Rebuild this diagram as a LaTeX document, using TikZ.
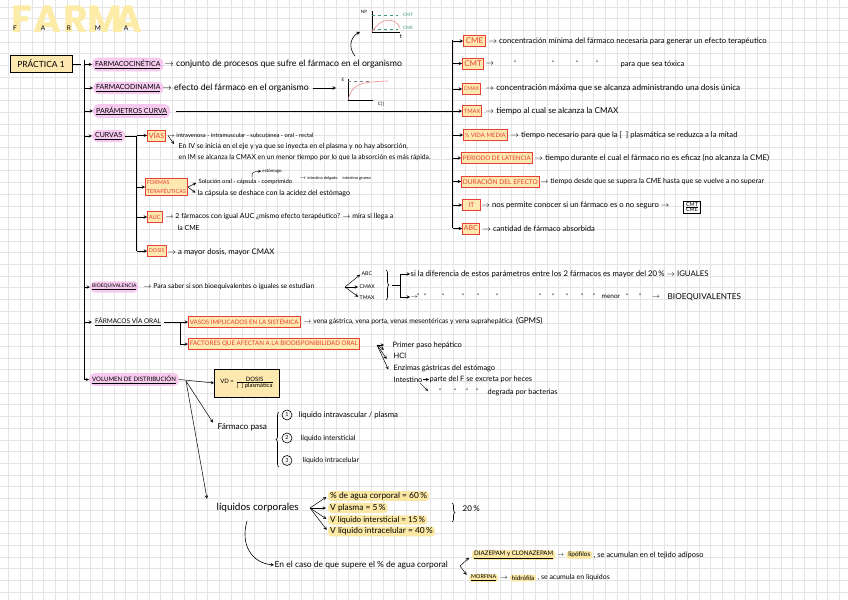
\documentclass[tikz,border=0pt]{standalone}
\usepackage{fontspec}
\setmainfont{Lato}
\newfontfamily\titlefont{Poppins}
\usetikzlibrary{positioning,decorations.pathreplacing,calc}

\definecolor{pillpink}{RGB}{246,202,238}
\definecolor{boxyellow}{RGB}{253,232,176}
\definecolor{boxred}{RGB}{232,64,52}
\definecolor{hlyellow}{RGB}{251,231,164}
\definecolor{gridgray}{RGB}{229,229,229}
\definecolor{cmgreen}{RGB}{58,150,118}
\definecolor{curvepink}{RGB}{239,140,140}
\definecolor{titleyellow}{RGB}{252,236,168}

\newcommand{\fsz}[1]{\fontsize{#1}{#1}\selectfont}
\newcommand{\arr}{$\rightarrow$}

\begin{document}
\begin{tikzpicture}[x=1bp,y=-1bp,>=stealth,
  every node/.style={inner sep=1pt,font=\fsz{7.8}},
  txt/.style={anchor=west,inner sep=0.5pt},
  pill/.style={anchor=west,fill=pillpink,rounded corners=5bp,inner xsep=3bp,inner ysep=2.5bp,font=\fsz{7}},
  redbox/.style={anchor=west,draw=boxred,fill=boxyellow,text=boxred,line width=0.8pt,inner xsep=1.5bp,inner ysep=2bp,minimum height=11bp},
  hl/.style={anchor=west,fill=hlyellow,rounded corners=3bp,inner xsep=2bp,inner ysep=1bp},
  line/.style={line width=0.6pt},
  tip/.style={->,line width=0.5pt},
  grid line/.style={gridgray,line width=0.4pt},
  brace/.style={decorate,decoration={brace,amplitude=3bp},line width=0.6pt},
]
\useasboundingbox (0,0) rectangle (848,600);
\fill[white] (0,0) rectangle (848,600);
% squared paper
\foreach \gx in {0,...,72} \draw[grid line] ({8.5+11.7*\gx},0) -- ++(0,600);
\foreach \gy in {0,...,51} \draw[grid line] (0,{6.8+11.7*\gy}) -- ++(848,0);

% title
\foreach \ch/\cx [count=\i] in {F/21.5,A/47.5,R/75.5,M/105,A/128}
  \node[font=\titlefont\bfseries\fsz{38},text=titleyellow,inner sep=0pt] (big-\i) at (\cx,19) {\ch};
\foreach \ch/\cx [count=\i] in {F/15,A/43,R/69,M/98,A/126}
  \node[font=\fsz{6.5}] (sm-\i) at (\cx,28) {\ch};

% main trunk
\node[draw,fill=boxyellow,line width=0.8pt,minimum width=62bp,minimum height=17bp,font=\fsz{8.5}] (prac) at (41,64) {PRÁCTICA 1};
\coordinate (trunk) at (84.3,60);
\coordinate (trunkend) at (84.3,380);
\draw[line] (prac.east) -- ++(9,0);
\draw[line] (trunk) -- (trunkend);

\node[pill] (fcin) at (92,64.5) {\underline{FARMACOCINÉTICA}};
\node[pill] (fdin) at (93,88) {\underline{FARMACODINAMIA}};
\node[pill] (pcur) at (93,111) {\underline{PARÁMETROS CURVA}};
\node[pill] (curv) at (92,136) {\underline{CURVAS}};
\node[pill,font=\fsz{5},inner xsep=2bp] (bioe) at (90,287) {\underline{BIOEQUIVALENCIA}};
\node[pill,fill=none,font=\fsz{6.5}] (fvo) at (92,322) {\underline{FÁRMACOS VÍA ORAL}};
\node[pill,font=\fsz{6.1}] (vdis) at (89,379.5) {\underline{VOLUMEN DE DISTRIBUCIÓN}};
\foreach \p in {fcin,fdin,pcur,curv,bioe,fvo,vdis}
  \draw[tip] (trunk |- \p.west) -- (\p.west);

% farmacocinetica / farmacodinamia
\node[txt,font=\fsz{8.8}] (fcin-t) at (164,64) {\arr{} conjunto de procesos que sufre el fármaco en el organismo};
\node[txt,font=\fsz{8.8}] (fdin-t) at (162,88) {\arr{} efecto del fármaco en el organismo};
\coordinate (egraph) at (336,88);
\draw[tip,line width=0.6pt,shorten <=3bp] (fdin-t.east) -- (egraph);

% E - C graph
\coordinate (e0) at (348,100);
\draw[line] (348,79) -- (e0) -- (373,100);
\draw[dashed,line width=0.4pt,gray] (348,81) -- (370,81);
\draw[curvepink,line width=0.6pt] (e0) .. controls (352,84) and (360,82) .. (388,81);
\node[font=\fsz{4.5}] (elab) at (343,80) {E};
\node[font=\fsz{4.5}] (clab) at (381,104) {C[\,]};

% concentration - time graph
\coordinate (np0) at (372,32);
\draw[line] (372,11) -- (np0) -- (400,32);
\draw[dashed,cmgreen,line width=0.5pt] (372,15) -- (398,15);
\draw[dashed,cmgreen,line width=0.5pt] (372,29.5) -- (398,29.5);
\draw[curvepink,line width=0.6pt] (np0) .. controls (380,18) and (395,16) .. (400,28);
\node[font=\fsz{4.5}] (nplab) at (364,12) {NP};
\node[font=\fsz{4.5},text=cmgreen,anchor=west] (cmtlab) at (402,15) {CMT};
\node[font=\fsz{4.5},text=cmgreen,anchor=west] (cmelab) at (402,28) {CME};
\node[font=\fsz{6}] (tlab) at (401,37) {t};
\coordinate (orgup) at (355,56);
\coordinate (npin) at (360,32);
\draw[tip,line width=0.6pt] (orgup) .. controls (347,46) and (352,36) .. (npin);

% parametros curva
\coordinate (rtrunk) at (452.7,40);
\coordinate (rtrunkend) at (452.7,228.5);
\draw[line,shorten <=6bp] (pcur.east) -- (rtrunk |- pcur.east);
\draw[line] (rtrunk) -- (rtrunkend);

\node[redbox,font=\fsz{8},inner xsep=2.5bp] (cme) at (463,41) {CME};
\node[redbox,font=\fsz{8},inner xsep=2bp] (cmt) at (462,63.5) {CMT};
\node[redbox,font=\fsz{5.2}] (cmax) at (462,89) {CMAX};
\node[redbox,font=\fsz{5.8}] (tmax) at (462,111) {TMAX};
\node[redbox,font=\fsz{6}] (vida) at (463,135) {½ VIDA MEDIA};
\node[redbox,font=\fsz{6.2}] (plat) at (461,158) {PERIODO DE LATENCIA};
\node[redbox,font=\fsz{6.6}] (dur) at (461,181.5) {DURACIÓN DEL EFECTO};
\node[redbox,font=\fsz{6.5},minimum width=18bp] (it) at (462,205) {IT};
\node[redbox,font=\fsz{7}] (abc) at (462,228.5) {ABC};
\foreach \b in {cme,cmt,cmax,tmax,vida,plat,dur,it,abc}
  \draw[tip] (rtrunk |- \b.west) -- (\b.west);

\node[txt,font=\fsz{7.7}] (cme-t) at (488,41.5) {\arr{} concentración mínima del fármaco necesaria para generar un efecto terapéutico};
\node[txt,font=\fsz{7.6}] (cmt-t) at (485,63.5) {\arr};
\foreach \dx [count=\i] in {515,553,577,597}
  \node[font=\fsz{6}] (cmt-d\i) at (\dx,63) {''};
\node[txt,font=\fsz{7.6}] (cmt-t2) at (620,64) {para que sea tóxica};
\node[txt,font=\fsz{8.2}] (cmax-t) at (485,88.5) {\arr{} concentración máxima que se alcanza administrando una dosis única};
\node[txt,font=\fsz{8.2}] (tmax-t) at (485,111) {\arr{} tiempo al cual se alcanza la CMAX};
\node[txt,font=\fsz{7.7}] (vida-t) at (510,135) {\arr{} tiempo necesario para que la [\ \ ] plasmática se reduzca a la mitad};
\node[txt,font=\fsz{7.8}] (plat-t) at (534,158) {\arr{} tiempo durante el cual el fármaco no es eficaz (no alcanza la CME)};
\node[txt,font=\fsz{7.1}] (dur-t) at (540,182) {\arr{} tiempo desde que se supera la CME hasta que se vuelve a no superar};
\node[txt,font=\fsz{7.7}] (it-t) at (481,205) {\arr{} nos permite conocer si un fármaco es o no seguro \arr};
\node[draw,line width=0.6pt,inner sep=1.5bp,font=\fsz{5.5}] (itfrac) at (692,207) {$\frac{\mbox{CMT}}{\mbox{CME}}$};
\node[txt,font=\fsz{7.6}] (abc-t) at (482,228.5) {\arr{} cantidad de fármaco absorbida};

% curvas
\coordinate (ctrunk) at (136.7,136);
\coordinate (ctrunkend) at (136.7,251);
\draw[line] (curv.east) -- (ctrunk) -- (ctrunkend);
\node[redbox,font=\fsz{7}] (vias) at (147,135.5) {VÍAS};
\node[redbox,font=\fontsize{5.5}{8.5}\selectfont,align=left] (form) at (145,187) {FORMAS\\TERAPÉUTICAS};
\node[redbox,font=\fsz{5.8}] (auc) at (147,217) {AUC};
\node[redbox,font=\fsz{5.4}] (dosis) at (147,251) {DOSIS};
\foreach \b in {vias,form,auc,dosis}
  \draw[tip] (ctrunk |- \b.west) -- (\b.west);

\node[txt,font=\fsz{5.8}] (vias-t) at (167,135) {\arr{} intravenosa - intramuscular - subcutánea - oral - rectal};
\node[txt,font=\fsz{7}] (iv-t) at (178,147) {En IV se inicia en el eje y ya que se inyecta en el plasma y no hay absorción,};
\node[txt,font=\fsz{6.8}] (im-t) at (178,158) {en IM se alcanza la CMAX en un menor tiempo por lo que la absorción es más rápida.};
\draw[tip] ([xshift=2bp]vias.east) -- ([xshift=-4bp,yshift=-1bp]iv-t.north west);

\node[txt,font=\fsz{5.9}] (form-a) at (198,182) {Solución oral - cápsula - comprimido};
\node[txt,font=\fsz{7.2}] (form-b) at (197,194) {la cápsula se deshace con la acidez del estómago};
\draw[tip,shorten >=2bp] (form.east) -- (form-a.west);
\draw[tip,shorten >=2bp] (form.east) -- (form-b.west);
\node[font=\fsz{4.5}] (estom) at (272,171) {estómago};
\coordinate (capsula) at (252,178);
\draw[tip,line width=0.4pt] (capsula) .. controls (252,172) .. (estom.west);
\node[txt,font=\fsz{4}] (intd) at (299,178) {\arr{} intestino delgado \quad intestino grueso};

\node[txt,font=\fsz{7}] (auc-t) at (165,217) {\arr{} 2 fármacos con igual AUC ¿mismo efecto terapéutico? \arr{} mira si llega a};
\node[txt,font=\fsz{7}] (auc-t2) at (177,228) {la CME};
\node[txt,font=\fsz{7.8}] (dosis-t) at (167,252) {\arr{} a mayor dosis, mayor CMAX};

% bioequivalencia
\node[txt,font=\fsz{6.8}] (bioe-t) at (143,287) {\arr{} Para saber si son bioequivalentes o iguales se estudian};
\coordinate (bsplit) at (345,287);
\node[txt,font=\fsz{5.2}] (b-abc) at (361,274) {ABC};
\node[txt,font=\fsz{5.2}] (b-cmax) at (359,287) {CMAX};
\node[txt,font=\fsz{5.2}] (b-tmax) at (359,297.5) {TMAX};
\foreach \b in {b-abc,b-cmax,b-tmax}
  \draw[tip,shorten >=1bp] (bsplit) -- (\b.west);
\draw[brace] (386,270) -- (386,300);
\coordinate (bjoin) at (392,285.5);
\coordinate (bbrk) at (400,285.5);
\draw[line] (bjoin) -- (bbrk);
\node[txt,font=\fsz{7.8}] (ig-t) at (410,274) {si la diferencia de estos parámetros entre los 2 fármacos es mayor del 20\,\% \arr{} IGUALES};
\node[txt,font=\fsz{6}] (beq-t) at (410,297) {\arr};
\foreach \dx [count=\i] in {418,425,443,463,478,497,540,553,567,582,594,627,640}
  \node[font=\fsz{6}] (beq-d\i) at (\dx,296.5) {''};
\node[txt,font=\fsz{6.5}] (menor) at (601,297) {menor};
\node[font=\fsz{7}] (beq-a) at (656,297) {\arr};
\node[txt,font=\fsz{8.2}] (bioeq) at (667,297) {BIOEQUIVALENTES};
\draw[tip] (bbrk |- ig-t.west) -- (ig-t.west);
\draw[line] (bbrk |- ig-t.west) -- (bbrk |- beq-t.west);
\draw[tip] (bbrk |- beq-t.west) -- (beq-t.west);

% farmacos via oral
\coordinate (fbrk) at (180,322);
\draw[line] (fvo.east) -- (fbrk);
\node[redbox,font=\fsz{6.1}] (vasos) at (188,322) {VASOS IMPLICADOS EN LA SISTÉMICA};
\node[redbox,font=\fsz{6.2}] (fact) at (188,344) {FACTORES QUE AFECTAN A LA BIODISPONIBILIDAD ORAL};
\draw[tip] (fbrk) -- (vasos.west);
\draw[tip] (fbrk) |- (fact.west);
\node[txt,font=\fsz{6.8}] (vasos-t) at (303,321.5) {\arr{} vena gástrica, vena porta, venas mesentéricas y vena suprahepática \ {\fsz{8}(GPMS)}};

\coordinate (ffan) at (377,345);
\node[txt,font=\fsz{7.5}] (pp) at (392,345) {Primer paso hepático};
\node[txt,font=\fsz{7.5}] (hcl) at (393,356) {HCl};
\node[txt,font=\fsz{7.4}] (enz) at (393,368) {Enzimas gástricas del estómago};
\node[txt,font=\fsz{7.4}] (intest) at (393,379.5) {Intestino};
\node[txt,font=\fsz{7.4}] (intest-t) at (429,379.5) {parte del F se excreta por heces};
\draw[tip,line width=0.4pt] (intest.east) -- (intest-t.west);
\foreach \dx [count=\i] in {440,455,467,477}
  \node[font=\fsz{6}] (degr-d\i) at (\dx,391.5) {''};
\node[txt,font=\fsz{7.4}] (degr) at (487,392) {degrada por bacterias};
\coordinate (intdn) at (428,391);
\draw[tip,line width=0.4pt] ([xshift=-3bp]intest.south east) -- (intdn);
\draw[tip,shorten >=8bp] (ffan) -- (pp.west);
\foreach \f in {hcl,enz,intest}
  \draw[tip,shorten >=11bp] (ffan) -- (\f.west);

% volumen de distribucion
\node[draw,fill=boxyellow,line width=0.8pt,minimum width=65bp,minimum height=28bp,font=\fsz{6}] (vd) at (247,383) {VD = $\frac{\mbox{DOSIS}}{\mbox{[\ \ ] plasmática}}$};
\draw[tip] (vdis.east) -- (vd.west);
\coordinate (vsplit) at (186,381);
\node[txt,font=\fsz{8.3}] (fpasa) at (217,427) {Fármaco pasa};
\node[txt,font=\fsz{10}] (liq) at (216,508) {líquidos corporales};
\draw[tip] (vsplit) -- ([xshift=-4bp]fpasa.north west);
\draw[tip] (vsplit) -- ([xshift=-9bp,yshift=4bp]liq.north west);

\draw[brace] (279,467) -- (279,412);
\foreach \n/\ny in {1/415,2/438,3/460.5}
  \node[circle,draw,line width=0.6pt,inner sep=0pt,minimum size=10bp,font=\fsz{5.5}] (n\n) at (287,\ny) {\n};
\node[txt,font=\fsz{7.8}] (l1) at (298,415) {líquido intravascular / plasma};
\node[txt,font=\fsz{7.1}] (l2) at (300,438) {líquido intersticial};
\node[txt,font=\fsz{7}] (l3) at (302,461) {líquido intracelular};

\coordinate (lfan) at (310,508);
\node[hl,font=\fsz{8.4}] (w1) at (328,496) {\% de agua corporal = 60\,\%};
\node[hl,font=\fsz{8.4}] (w2) at (328,508) {V plasma = 5\,\%};
\node[hl,font=\fsz{8}] (w3) at (328,520) {V líquido intersticial = 15\,\%};
\node[hl,font=\fsz{8.4}] (w4) at (328,531.5) {V líquido intracelular = 40\,\%};
\foreach \w in {w1,w2,w3,w4}
  \draw[tip,shorten >=2bp] (lfan) -- (\w.west);
\draw[brace] (452,503) -- (452,522);
\node[txt,font=\fsz{8}] (pct) at (462,509) {20\,\%};

\coordinate (lcurve) at (247,521);
\node[txt,font=\fsz{8.5}] (case) at (274,565) {En el caso de que supere el \% de agua corporal};
\draw[tip,line width=0.6pt] (lcurve) .. controls (240,545) and (252,563) .. (case.west);
\coordinate (csplit) at (460,566);
\node[hl,font=\fsz{6.2}] (diaz) at (472,555) {\underline{DIAZEPAM y CLONAZEPAM}};
\node[font=\fsz{6.5},right=0.5bp of diaz] (diaz-a) {\arr};
\node[hl,font=\fsz{6.5},right=0.5bp of diaz-a] (lipo) {lipófilos};
\node[font=\fsz{7.5},right=0bp of lipo] (diaz-b) {, se acumulan en el tejido adiposo};
\node[hl,font=\fsz{5.4}] (morf) at (469,578) {\underline{MORFINA}};
\node[font=\fsz{7},right=0.5bp of morf] (morf-a) {\arr};
\node[hl,font=\fsz{6.3},right=0.5bp of morf-a] (hidro) {hidrófila};
\node[font=\fsz{7},right=0bp of hidro] (morf-b) {, se acumula en líquidos};
\draw[tip,shorten >=4bp] (csplit) -- (diaz.west);
\draw[tip,shorten >=4bp] (csplit) -- (morf.west);
\end{tikzpicture}
\end{document}
